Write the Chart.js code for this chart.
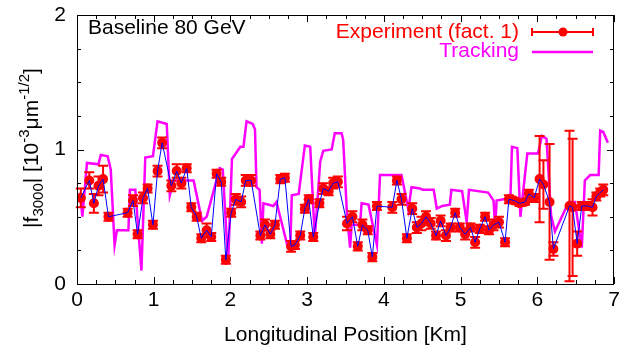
<!DOCTYPE html>
<html>
<head>
<meta charset="utf-8">
<script src="https://cdn.jsdelivr.net/npm/chart.js@4.4.1/dist/chart.umd.min.js"></script>
<style>
  html, body { margin: 0; padding: 0; background: #fff; }
  #wrap { width: 633px; height: 354px; }
</style>
</head>
<body>
<div id="wrap"><canvas id="chart" width="633" height="354"></canvas></div>
<script>
// Experiment (fact. 1): position [km], value, error
const expX = [0.05, 0.16, 0.22, 0.28, 0.34, 0.41, 0.66, 0.73, 0.79, 0.86, 0.92, 0.99, 1.05, 1.11,
  1.23, 1.30, 1.36, 1.43, 1.49, 1.56, 1.62, 1.69, 1.75, 1.82, 1.88, 1.94, 2.01, 2.07, 2.14, 2.20, 2.27,
  2.39, 2.45, 2.52, 2.58, 2.65, 2.71, 2.79, 2.84, 2.91, 2.97, 3.02, 3.08, 3.16, 3.21, 3.28, 3.34, 3.40,
  3.52, 3.59, 3.66, 3.72, 3.79, 3.85, 3.91, 4.11, 4.17, 4.23, 4.30, 4.37, 4.43, 4.49, 4.55, 4.61,
  4.68, 4.74, 4.81, 4.87, 4.93, 4.99, 5.06, 5.13, 5.19, 5.25, 5.32, 5.37, 5.43, 5.50, 5.58, 5.63,
  5.70, 5.77, 5.84, 5.89, 5.96, 6.03, 6.08, 6.16, 6.21, 6.42, 6.46, 6.52, 6.58, 6.65, 6.72, 6.77, 6.82, 6.86];
const expY = [0.64, 0.77, 0.60, 0.73, 0.78, 0.50, 0.53, 0.62, 0.37, 0.64, 0.71, 0.44, 0.84, 1.05,
  0.73, 0.84, 0.75, 0.86, 0.57, 0.50, 0.34, 0.40, 0.35, 0.82, 0.76, 0.18, 0.53, 0.63, 0.61, 0.77, 0.77,
  0.36, 0.44, 0.37, 0.44, 0.78, 0.79, 0.28, 0.29, 0.36, 0.56, 0.63, 0.35, 0.60, 0.71, 0.69, 0.75, 0.76,
  0.45, 0.50, 0.28, 0.44, 0.40, 0.20, 0.58, 0.57, 0.77, 0.63, 0.34, 0.56, 0.42, 0.45, 0.50, 0.45,
  0.36, 0.47, 0.36, 0.42, 0.53, 0.42, 0.37, 0.42, 0.31, 0.41, 0.50, 0.40, 0.44, 0.46, 0.31, 0.63,
  0.62, 0.60, 0.61, 0.67, 0.64, 0.78, 0.74, 0.61, 0.26, 0.58, 0.57, 0.30, 0.58, 0.58, 0.57, 0.65, 0.68, 0.70];
const expErr = [0.07, 0.06, 0.07, 0.07, 0.10, 0.03, 0.03, 0.04, 0.03, 0.04, 0.03, 0.03, 0.04, 0.04,
  0.04, 0.05, 0.04, 0.03, 0.03, 0.03, 0.03, 0.05, 0.03, 0.03, 0.03, 0.03, 0.03, 0.04, 0.04, 0.04, 0.04,
  0.03, 0.04, 0.03, 0.03, 0.03, 0.03, 0.04, 0.03, 0.03, 0.03, 0.03, 0.03, 0.03, 0.04, 0.03, 0.04, 0.04,
  0.05, 0.04, 0.03, 0.04, 0.03, 0.03, 0.03, 0.04, 0.03, 0.04, 0.03, 0.04, 0.04, 0.05, 0.04, 0.04,
  0.03, 0.04, 0.04, 0.03, 0.03, 0.03, 0.04, 0.03, 0.04, 0.03, 0.03, 0.03, 0.04, 0.04, 0.03, 0.03,
  0.02, 0.02, 0.02, 0.03, 0.03, 0.32, 0.18, 0.43, 0.05, 0.56, 0.51, 0.09, 0.03, 0.03, 0.06, 0.03, 0.03, 0.04];

// Tracking
const trkX = [0.04, 0.07, 0.13, 0.28, 0.31, 0.40, 0.44, 0.49, 0.52, 0.67, 0.69, 0.76, 0.84, 0.89, 0.99,
  1.05, 1.17, 1.21, 1.26, 1.52, 1.63, 1.69, 1.86, 1.90, 1.97, 2.02, 2.13, 2.17, 2.21, 2.29, 2.32,
  2.34, 2.38, 2.41, 2.43, 2.56, 2.60, 2.75, 2.78, 2.80, 2.89, 2.97, 3.04, 3.10, 3.17, 3.21, 3.32,
  3.36, 3.45, 3.47, 3.52, 3.56, 3.58, 3.69, 3.71, 3.80, 3.91, 3.95, 4.23, 4.28, 4.32, 4.36, 4.47,
  4.51, 4.65, 4.69, 4.76, 4.86, 4.88, 5.02, 5.08, 5.11, 5.36, 5.43, 5.45, 5.47, 5.65, 5.67, 5.74,
  5.78, 5.87, 6.01, 6.06, 6.12, 6.18, 6.23, 6.41, 6.49, 6.58, 6.62, 6.69, 6.80, 6.82, 6.86, 6.92];
const trkY = [0.68, 0.50, 0.90, 0.89, 0.96, 0.95, 0.85, 0.29, 0.40, 0.40, 0.70, 0.70, 0.10, 0.94, 0.95,
  1.21, 1.19, 0.66, 0.77, 0.77, 0.47, 0.50, 0.86, 0.85, 0.15, 0.93, 1.02, 1.02, 1.21, 1.19, 1.15,
  0.72, 0.70, 0.30, 0.60, 0.58, 0.61, 0.27, 0.27, 0.66, 0.67, 1.03, 1.02, 0.34, 0.91, 0.99, 1.00,
  1.12, 1.12, 1.07, 0.51, 0.27, 0.44, 0.44, 0.60, 0.59, 0.29, 0.81, 0.81, 0.67, 0.55, 0.72, 0.71,
  0.70, 0.70, 0.56, 0.58, 0.59, 0.70, 0.69, 0.46, 0.70, 0.68, 0.62, 0.42, 0.62, 0.64, 1.02, 1.01,
  0.50, 0.97, 0.97, 1.10, 1.08, 0.51, 0.39, 0.61, 0.61, 0.27, 0.77, 0.81, 0.81, 1.14, 1.13, 1.05];

const xTicks = [0, 1, 2, 3, 4, 5, 6, 7];
const yTicks = [0, 1, 2];

const FONT = '"Liberation Sans", Arial, sans-serif';

const expPts = expX.map((x, i) => ({ x: x, y: expY[i] }));
const trkPts = trkX.map((x, i) => ({ x: x, y: trkY[i] }));

// vertical error bars under the red points
const errorBars = {
  id: 'errorBars',
  beforeDatasetDraw(chart, args) {
    if (args.index !== 0) return;
    const { ctx, scales: { x, y } } = chart;
    ctx.save();
    ctx.strokeStyle = '#ff0000';
    ctx.lineWidth = 2;
    expX.forEach((v, i) => {
      const px = x.getPixelForValue(v);
      const top = y.getPixelForValue(expY[i] + expErr[i]);
      const bot = y.getPixelForValue(expY[i] - expErr[i]);
      ctx.beginPath();
      ctx.moveTo(px, top); ctx.lineTo(px, bot);
      ctx.moveTo(px - 5, top); ctx.lineTo(px + 5, top);
      ctx.moveTo(px - 5, bot); ctx.lineTo(px + 5, bot);
      ctx.stroke();
    });
    ctx.restore();
  }
};

// frame, inward ticks, y title with sub/superscripts, key and label
const decor = {
  id: 'decor',
  afterDraw(chart) {
    const { ctx, chartArea: a, scales: { x, y } } = chart;
    ctx.save();
    ctx.strokeStyle = '#000';
    ctx.lineWidth = 1;
    ctx.strokeRect(a.left + 0.5, a.top + 0.5, a.right - a.left - 1, a.bottom - a.top);
    ctx.beginPath();
    for (let v = 0; v <= 7.001; v += 0.25) {
      const px = Math.round(x.getPixelForValue(v)) + 0.5;
      const len = Math.abs(v - Math.round(v)) < 1e-6 ? 7 : 4;
      ctx.moveTo(px, a.bottom); ctx.lineTo(px, a.bottom - len);
      ctx.moveTo(px, a.top); ctx.lineTo(px, a.top + len);
    }
    for (let v = 0; v <= 2.001; v += 0.25) {
      const py = Math.round(y.getPixelForValue(v)) + 0.5;
      const len = Math.abs(v - Math.round(v)) < 1e-6 ? 7 : 4;
      ctx.moveTo(a.left, py); ctx.lineTo(a.left + len, py);
      ctx.moveTo(a.right, py); ctx.lineTo(a.right - len, py);
    }
    ctx.stroke();

    // y axis title
    const parts = [
      ['|f', 21, 0], ['3000', 15, 5], ['| [10', 21, 0], ['-3', 15, -9],
      ['\u03bcm', 21, 0], ['-1/2', 15, -9], [']', 21, 0]
    ];
    let total = 0;
    parts.forEach(p => { ctx.font = p[1] + 'px ' + FONT; total += ctx.measureText(p[0]).width; });
    ctx.translate(38, 148);
    ctx.rotate(-Math.PI / 2);
    ctx.fillStyle = '#000';
    ctx.textBaseline = 'alphabetic';
    ctx.textAlign = 'left';
    let cx = -total / 2;
    parts.forEach(p => {
      ctx.font = p[1] + 'px ' + FONT;
      ctx.fillText(p[0], cx, p[2]);
      cx += ctx.measureText(p[0]).width;
    });
    ctx.setTransform(1, 0, 0, 1, 0, 0);

    // label and key
    ctx.font = '21px ' + FONT;
    ctx.textBaseline = 'middle';
    ctx.textAlign = 'left';
    ctx.fillStyle = '#000';
    ctx.fillText('Baseline 80 GeV', 88, 28);
    ctx.textAlign = 'right';
    ctx.fillStyle = '#ff0000';
    ctx.fillText('Experiment (fact. 1)', 519, 32);
    ctx.fillStyle = '#ff00ff';
    ctx.fillText('Tracking', 519, 51);
    ctx.strokeStyle = '#ff0000';
    ctx.lineWidth = 2;
    ctx.beginPath();
    ctx.moveTo(532, 32); ctx.lineTo(593, 32);
    ctx.moveTo(532, 28); ctx.lineTo(532, 36);
    ctx.moveTo(593, 28); ctx.lineTo(593, 36);
    ctx.stroke();
    ctx.fillStyle = '#ff0000';
    ctx.beginPath();
    ctx.arc(563, 32, 4.5, 0, Math.PI * 2);
    ctx.fill();
    ctx.strokeStyle = '#ff00ff';
    ctx.lineWidth = 2.5;
    ctx.beginPath();
    ctx.moveTo(532, 52); ctx.lineTo(593, 52);
    ctx.stroke();
    ctx.restore();
  }
};

const chart = new Chart(document.getElementById('chart').getContext('2d'), {
  type: 'line',
  data: {
    datasets: [{
      label: 'Experiment (fact. 1)',
      data: expPts,
      showLine: false,
      pointRadius: 5,
      pointBackgroundColor: '#ff0000',
      pointBorderColor: '#ff0000',
      pointBorderWidth: 0,
      order: 2
    }, {
      label: 'exp line',
      data: expPts,
      borderColor: '#0000ff',
      borderWidth: 1,
      pointRadius: 0,
      tension: 0,
      order: 1
    }, {
      label: 'Tracking',
      data: trkPts,
      borderColor: '#ff00ff',
      borderWidth: 2.5,
      pointRadius: 0,
      tension: 0,
      order: 3
    }]
  },
  options: {
    responsive: false,
    animation: false,
    devicePixelRatio: 1,
    layout: { padding: { top: 15, right: 19, left: 0, bottom: 0 } },
    plugins: { legend: { display: false }, tooltip: { enabled: false } },
    scales: {
      x: {
        type: 'linear', min: 0, max: 7,
        afterBuildTicks: s => { s.ticks = xTicks.map(v => ({ value: v })); },
        afterFit: s => { s.height = 70; s.paddingLeft = 0; s.paddingRight = 0; },
        grid: { display: false, drawTicks: false },
        border: { display: false },
        ticks: { color: '#000', font: { family: FONT, size: 21 }, padding: 4, maxRotation: 0 },
        title: { display: true, text: 'Longitudinal Position [Km]', color: '#000',
          font: { family: FONT, size: 21 }, padding: { top: 0, bottom: 6 } }
      },
      y: {
        type: 'linear', min: 0, max: 2,
        afterBuildTicks: s => { s.ticks = yTicks.map(v => ({ value: v })); },
        afterFit: s => { s.width = 77; s.paddingTop = 0; s.paddingBottom = 0; },
        grid: { display: false, drawTicks: false },
        border: { display: false },
        ticks: { color: '#000', font: { family: FONT, size: 21 }, padding: 11 }
      }
    }
  },
  plugins: [errorBars, decor]
});
</script>
</body>
</html>
